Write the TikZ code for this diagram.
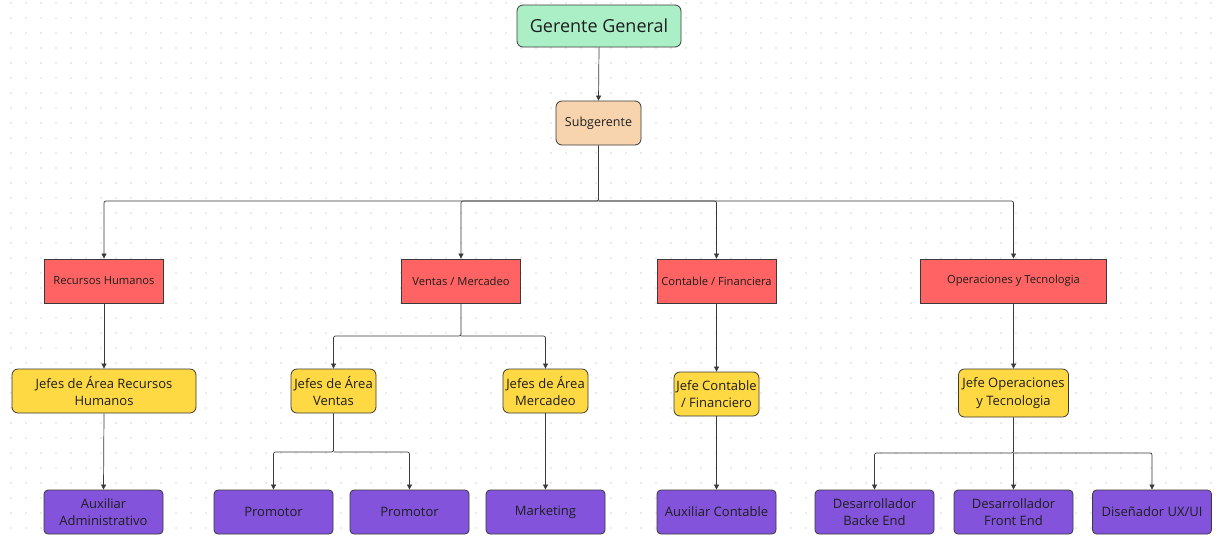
\documentclass[tikz,border=0pt]{standalone}
\usepackage{fontspec}
\setmainfont{Open Sans}
\usetikzlibrary{arrows.meta}
\definecolor{cgreen}{HTML}{ABEFC6}
\definecolor{corange}{HTML}{F8D4AE}
\definecolor{cred}{HTML}{FF6363}
\definecolor{cyellow}{HTML}{FFD943}
\definecolor{cpurple}{HTML}{8354DB}
\definecolor{cline}{HTML}{3A3A3A}
\definecolor{cdot}{HTML}{A8A8A8}
\definecolor{ctext}{HTML}{1E1E1E}
\tikzset{
  box/.style={draw=cline, line width=0.8pt, align=center, inner sep=0pt, text=ctext},
  greenbox/.style={box, fill=cgreen, rounded corners=6pt, minimum width=164pt, minimum height=42pt, font=\fontsize{18}{21}\selectfont},
  orangebox/.style={box, fill=corange, rounded corners=6pt, minimum width=85pt, minimum height=44pt, font=\fontsize{12.5}{15}\selectfont},
  redbox/.style={box, fill=cred, minimum width=119pt, minimum height=44pt, font=\fontsize{11.2}{13}\selectfont},
  yellowbox/.style={box, fill=cyellow, rounded corners=6pt, minimum height=44pt, font=\fontsize{13}{17.5}\selectfont},
  purplebox/.style={box, fill=cpurple, rounded corners=4pt, minimum width=119pt, minimum height=44pt, font=\fontsize{13}{17.5}\selectfont},
  conn/.style={draw=cline, line width=0.7pt, rounded corners=2pt, -{Triangle[length=5pt,width=5pt]}},
}
\begin{document}
\begin{tikzpicture}[x=1pt,y=-1pt]
\useasboundingbox (0,0) rectangle (1223,542);
\fill[white] (0,0) rectangle (1223,542);
\foreach \i in {0,...,81} {
  \foreach \j in {0,...,35} {
    \fill[cdot] (11+\i*15, 3+\j*15) circle (0.55pt);
  }
}
% top
\node[greenbox] (gg) at (599,26) {Gerente General};
\node[orangebox] (sg) at (598.5,123) {Subgerente};
% red
\node[redbox] (rh) at (104,281) {Recursos Humanos};
\node[redbox] (vm) at (461,281) {Ventas / Mercadeo};
\node[redbox] (cf) at (716.5,281) {Contable / Financiera};
\node[redbox, minimum width=186pt] (ot) at (1013.5,281) {Operaciones y Tecnologia};
% yellow
\node[yellowbox, minimum width=184pt] (jrh) at (104,391) {Jefes de Área Recursos\\Humanos};
\node[yellowbox, minimum width=85pt] (jv) at (333.5,391) {Jefes de Área\\Ventas};
\node[yellowbox, minimum width=85pt] (jm) at (545.5,391) {Jefes de Área\\Mercadeo};
\node[yellowbox, minimum width=85pt] (jc) at (716.5,394) {Jefe Contable\\/ Financiero};
\node[yellowbox, minimum width=110pt, minimum height=48pt] (jo) at (1013.5,393) {Jefe Operaciones\\y Tecnologia};
% purple
\node[purplebox] (aa) at (103.5,512) {Auxiliar\\Administrativo};
\node[purplebox] (p1) at (273.5,512) {Promotor};
\node[purplebox] (p2) at (409.5,512) {Promotor};
\node[purplebox] (mk) at (545.5,512) {Marketing};
\node[purplebox] (ac) at (716.5,512) {Auxiliar Contable};
\node[purplebox] (db) at (874.5,512) {Desarrollador\\Backe End};
\node[purplebox] (df) at (1013.5,512) {Desarrollador\\Front End};
\node[purplebox] (du) at (1152,512) {Diseñador UX/UI};
% connectors
\coordinate (b1) at (598.5,201);
\draw[conn] (gg.south) -- (sg.north);
\draw[conn] (sg.south) |- (b1) -| (rh.north);
\draw[conn] (b1) -| (vm.north);
\draw[conn] (b1) -| (cf.north);
\draw[conn] (b1) -| (ot.north);
\draw[conn] (rh.south) -- (jrh.north);
\coordinate (b2) at (461,336);
\draw[conn] (vm.south) |- (b2) -| (jv.north);
\draw[conn] (b2) -| (jm.north);
\draw[conn] (cf.south) -- (jc.north);
\draw[conn] (ot.south) -- (jo.north);
\draw[conn] (jrh.south) -- (aa.north);
\coordinate (b3) at (333.5,452);
\draw[conn] (jv.south) |- (b3) -| (p1.north);
\draw[conn] (b3) -| (p2.north);
\draw[conn] (jm.south) -- (mk.north);
\draw[conn] (jc.south) -- (ac.north);
\coordinate (b4) at (1013.5,453);
\draw[conn] (jo.south) |- (b4) -| (db.north);
\draw[conn] (b4) -- (df.north);
\draw[conn] (b4) -| (du.north);
\end{tikzpicture}
\end{document}
